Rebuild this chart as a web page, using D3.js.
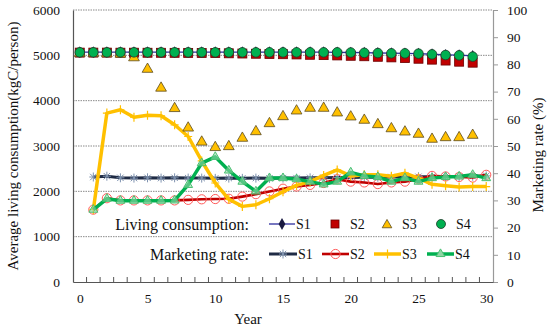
<!DOCTYPE html>
<html><head><meta charset="utf-8">
<script src="https://cdn.jsdelivr.net/npm/d3@7"></script>
<style>body{margin:0;background:#fff}svg{display:block}svg text{font-family:"Liberation Serif","Times New Roman",Tinos,"DejaVu Serif","Noto Serif",serif !important;fill:#111}</style>
</head><body><div id="c"></div>
<script>
const livingYears = d3.range(0, 30);      // 0..29
const marketYears = d3.range(1, 31);      // 1..30
const leftTicks = [0,1000,2000,3000,4000,5000,6000];
const rightTicks = [0,10,20,30,40,50,60,70,80,90,100];
const xTickLabels = [0,5,10,15,20,25,30];
const seriesNames = ["S1","S2","S3","S4"];

// Living consumption (kgC/person), years 0..29
const livS1 = [5070,5070,5070,5070,5070,5070,5070,5070,5070,5070,5070,5070,5070,5070,5070,5070,5070,5070,5070,5065,5062,5058,5052,5048,5044,5036,5024,5012,5004,4990];
const livS2 = [5060,5060,5060,5058,5058,5057,5056,5055,5054,5052,5050,5045,5040,5035,5030,5025,5020,5012,5005,4998,4990,4980,4968,4955,4940,4925,4905,4885,4860,4838];
const livS3 = [5065,5065,5060,5050,4970,4716,4300,3850,3420,3110,2990,3010,3195,3340,3517,3671,3797,3856,3856,3753,3665,3592,3495,3405,3333,3283,3173,3208,3208,3260];
const livS4 = [5066,5066,5066,5066,5066,5066,5066,5066,5066,5066,5066,5066,5066,5066,5066,5066,5066,5066,5066,5066,5062,5055,5050,5044,5044,5037,5022,5007,5000,4971];

// Marketing rate (%), years 1..30
const mktS1 = [38.6,38.9,38.3,38.2,38.3,38.2,38.3,38.2,38.2,38.1,38.2,38.1,38.2,38.1,38.2,38.2,38.3,38.3,38.4,38.4,38.5,38.5,38.6,38.6,38.7,38.7,38.8,38.8,38.9,39.0];
const mktS2 = [26.6,30.8,30.0,30.0,30.0,30.0,30.0,30.2,30.4,30.5,30.6,31.4,32.3,33.3,34.3,35.1,35.7,36.4,37.8,36.9,36.6,36.0,36.6,36.9,37.8,39.0,38.8,38.6,38.4,39.4];
const mktS3 = [26.6,62.1,63.3,60.6,61.3,61.1,57.8,53.5,44.5,36.4,30.4,27.8,28.4,30.6,33.2,35.5,36.9,39.2,41.2,39.0,39.4,39.4,38.9,40.0,38.2,35.9,35.4,34.9,35.1,35.1];
const mktS4 = [26.6,30.6,29.9,29.9,29.9,29.9,30.0,35.7,43.7,46.0,41.0,36.9,33.3,38.2,38.2,37.8,36.9,35.9,36.9,40.3,39.0,38.6,36.9,38.2,36.9,38.2,38.6,38.8,39.4,38.2];

const W = 550, H = 331;
const m = {l:73, r:493, t:10, b:282};
const FONT = '"Liberation Serif","Times New Roman",Tinos,"DejaVu Serif","Noto Serif",serif';
const svg = d3.select("#c").append("svg").attr("width",W).attr("height",H).attr("font-family",FONT);
svg.append("rect").attr("width",W).attr("height",H).attr("fill","#fff");

const x = d3.scaleLinear().domain([-0.5,30.5]).range([m.l,m.r]);
const yL = d3.scaleLinear().domain([0,6000]).range([m.b,m.t]);
const yR = d3.scaleLinear().domain([0,100]).range([m.b,m.t]);

// gridlines
svg.append("g").selectAll("line").data(leftTicks.filter(d=>d>0)).join("line")
  .attr("x1",m.l).attr("x2",m.r).attr("y1",d=>yL(d)).attr("y2",d=>yL(d))
  .attr("stroke","#8a8a8a").attr("stroke-width",1).attr("stroke-dasharray","1.5,1");

function styleAxisText(g){ g.attr("font-family",FONT); g.selectAll("text").style("font-family",FONT).style("font-size","13.5px").attr("fill","#111"); }
// left axis
const gL = svg.append("g").attr("transform",`translate(${m.l},0)`)
  .call(d3.axisLeft(yL).tickValues(leftTicks).tickSize(0).tickPadding(13).tickFormat(d3.format("d")));
gL.select(".domain").attr("stroke","#555").attr("stroke-width",1.2);
styleAxisText(gL);

// right axis
const gR = svg.append("g").attr("transform",`translate(${m.r},0)`)
  .call(d3.axisRight(yR).tickValues(rightTicks).tickSize(5).tickPadding(9).tickFormat(d3.format("d")));
gR.select(".domain").attr("stroke","#999").attr("stroke-width",1.2);
gR.selectAll(".tick line").attr("stroke","#999");
styleAxisText(gR);

// bottom axis: labels at years, ticks at category boundaries (inward)
const gB = svg.append("g").attr("transform",`translate(0,${m.b})`)
  .call(d3.axisBottom(x).tickValues(xTickLabels).tickSize(0).tickPadding(11).tickFormat(d3.format("d")));
gB.select(".domain").attr("stroke","#555").attr("stroke-width",1.2);
styleAxisText(gB);
svg.append("g").selectAll("line").data(d3.range(0,30).map(d=>d+0.5)).join("line")
  .attr("x1",d=>x(d)).attr("x2",d=>x(d)).attr("y1",m.b).attr("y2",m.b-5)
  .attr("stroke","#555").attr("stroke-width",1);

// axis titles
svg.append("text").attr("x",248).attr("y",324).attr("text-anchor","middle").style("font-size","15px").text("Year");
svg.append("text").attr("transform","translate(18,146) rotate(-90)").attr("text-anchor","middle").style("font-size","15px")
  .text("Average living consumption(kgC/person)");
svg.append("text").attr("transform","translate(543,155) rotate(-90)").attr("text-anchor","middle").style("font-size","15px")
  .text("Marketing rate (%)");

// marker helpers
const asterisk = "M-4,0H4M0,-4.5V4.5M-3.2,-3.2L3.2,3.2M-3.2,3.2L3.2,-3.2";
const plus = "M-4,0H4M0,-4.5V4.5";
const colors = {navy:"#1f2b45", red:"#c00000", gold:"#ffc000", green:"#00b050", blue:"#2e2e9e"};

function drawMarket(vals, color, width, markerFn){
  const data = marketYears.map((yr,i)=>({yr, v:vals[i]}));
  const g = svg.append("g");
  g.append("path").datum(data).attr("fill","none").attr("stroke",color).attr("stroke-width",width)
    .attr("stroke-linejoin","round")
    .attr("d", d3.line().x(d=>x(d.yr)).y(d=>yR(d.v)));
  const mk = g.selectAll("g").data(data).join("g").attr("transform",d=>`translate(${x(d.yr)},${yR(d.v)})`);
  markerFn(mk);
}
drawMarket(mktS1, colors.navy, 3, s=>s.append("path").attr("d",asterisk).attr("stroke","#7f93b0").attr("stroke-width",1).attr("fill","none"));
drawMarket(mktS2, colors.red, 2.6, s=>s.append("circle").attr("r",4.6).attr("fill","none").attr("stroke","#ff5a5a").attr("stroke-width",1));
drawMarket(mktS3, colors.gold, 3.5, s=>s.append("path").attr("d",plus).attr("stroke","#ffc000").attr("stroke-width",1.2));
drawMarket(mktS4, colors.green, 3.5, s=>s.append("path").attr("d",d3.symbol(d3.symbolTriangle,34)()).attr("fill","#8fd6a5").attr("fill-opacity",0.6).attr("stroke","#49c072").attr("stroke-width",1));

// living consumption
function livData(vals){ return livingYears.map((yr,i)=>({yr, v:vals[i]})); }
svg.append("path").datum(livData(livS1)).attr("fill","none").attr("stroke",colors.blue).attr("stroke-width",1.3)
  .attr("d", d3.line().x(d=>x(d.yr)).y(d=>yL(d.v)));
svg.append("g").selectAll("path").data(livData(livS1)).join("path")
  .attr("transform",d=>`translate(${x(d.yr)},${yL(d.v)})`).attr("d",d3.symbol(d3.symbolDiamond,40)())
  .attr("fill","#1a1a40");
svg.append("g").selectAll("rect").data(livData(livS2)).join("rect")
  .attr("x",d=>x(d.yr)-4.5).attr("y",d=>yL(d.v)-4.5).attr("width",9).attr("height",9)
  .attr("fill","#c00000").attr("stroke","#6b0000").attr("stroke-width",0.8);
svg.append("g").selectAll("path").data(livData(livS3)).join("path")
  .attr("transform",d=>`translate(${x(d.yr)},${yL(d.v)+1})`).attr("d",d3.symbol(d3.symbolTriangle,50)())
  .attr("fill","#ffc000").attr("stroke","#5a4a20").attr("stroke-width",0.8);
svg.append("g").selectAll("circle").data(livData(livS4)).join("circle")
  .attr("cx",d=>x(d.yr)).attr("cy",d=>yL(d.v)).attr("r",4.8)
  .attr("fill","#00b050").attr("stroke","#1e3a2a").attr("stroke-width",0.8);

// legend
svg.append("text").attr("x",249).attr("y",230).attr("text-anchor","end").style("font-size","16px").text("Living consumption:");
svg.append("text").attr("x",249).attr("y",260).attr("text-anchor","end").style("font-size","16px").text("Marketing rate:");
const r1 = 224, r2 = 254;
const lab = (xx,yy,t)=>svg.append("text").attr("x",xx).attr("y",yy+5).style("font-size","14px").text(t);
svg.append("line").attr("x1",269).attr("x2",295).attr("y1",r1).attr("y2",r1).attr("stroke",colors.blue).attr("stroke-width",1.3);
svg.append("path").attr("transform",`translate(282,${r1})`).attr("d",d3.symbol(d3.symbolDiamond,40)()).attr("fill","#1a1a40");
lab(296,r1,seriesNames[0]);
svg.append("rect").attr("x",331).attr("y",r1-4).attr("width",8).attr("height",8).attr("fill","#c00000").attr("stroke","#6b0000").attr("stroke-width",0.8);
lab(350,r1,seriesNames[1]);
svg.append("path").attr("transform",`translate(387,${r1+1})`).attr("d",d3.symbol(d3.symbolTriangle,40)()).attr("fill","#ffc000").attr("stroke","#5a4a20").attr("stroke-width",0.8);
lab(402,r1,seriesNames[2]);
svg.append("circle").attr("cx",441).attr("cy",r1).attr("r",4.5).attr("fill","#00b050").attr("stroke","#1e3a2a").attr("stroke-width",0.8);
lab(456,r1,seriesNames[3]);
const leg2 = [
  {x1:269,x2:297,c:colors.navy,w:3,lx:298,mk:s=>s.append("path").attr("d",asterisk).attr("stroke","#7f93b0").attr("stroke-width",1).attr("fill","none")},
  {x1:322,x2:349,c:colors.red,w:2.6,lx:350,mk:s=>s.append("circle").attr("r",4.6).attr("fill","none").attr("stroke","#ff5a5a").attr("stroke-width",1)},
  {x1:374,x2:401,c:colors.gold,w:3.5,lx:402,mk:s=>s.append("path").attr("d",plus).attr("stroke","#ffc000").attr("stroke-width",1.2)},
  {x1:427,x2:454,c:colors.green,w:3.5,lx:455,mk:s=>s.append("path").attr("d",d3.symbol(d3.symbolTriangle,34)()).attr("fill","#8fd6a5").attr("stroke","#49c072").attr("stroke-width",1)}
];
leg2.forEach((d,i)=>{
  svg.append("line").attr("x1",d.x1).attr("x2",d.x2).attr("y1",r2).attr("y2",r2).attr("stroke",d.c).attr("stroke-width",d.w);
  d.mk(svg.append("g").attr("transform",`translate(${(d.x1+d.x2)/2},${r2})`));
  lab(d.lx,r2,seriesNames[i]);
});
</script></body></html>
